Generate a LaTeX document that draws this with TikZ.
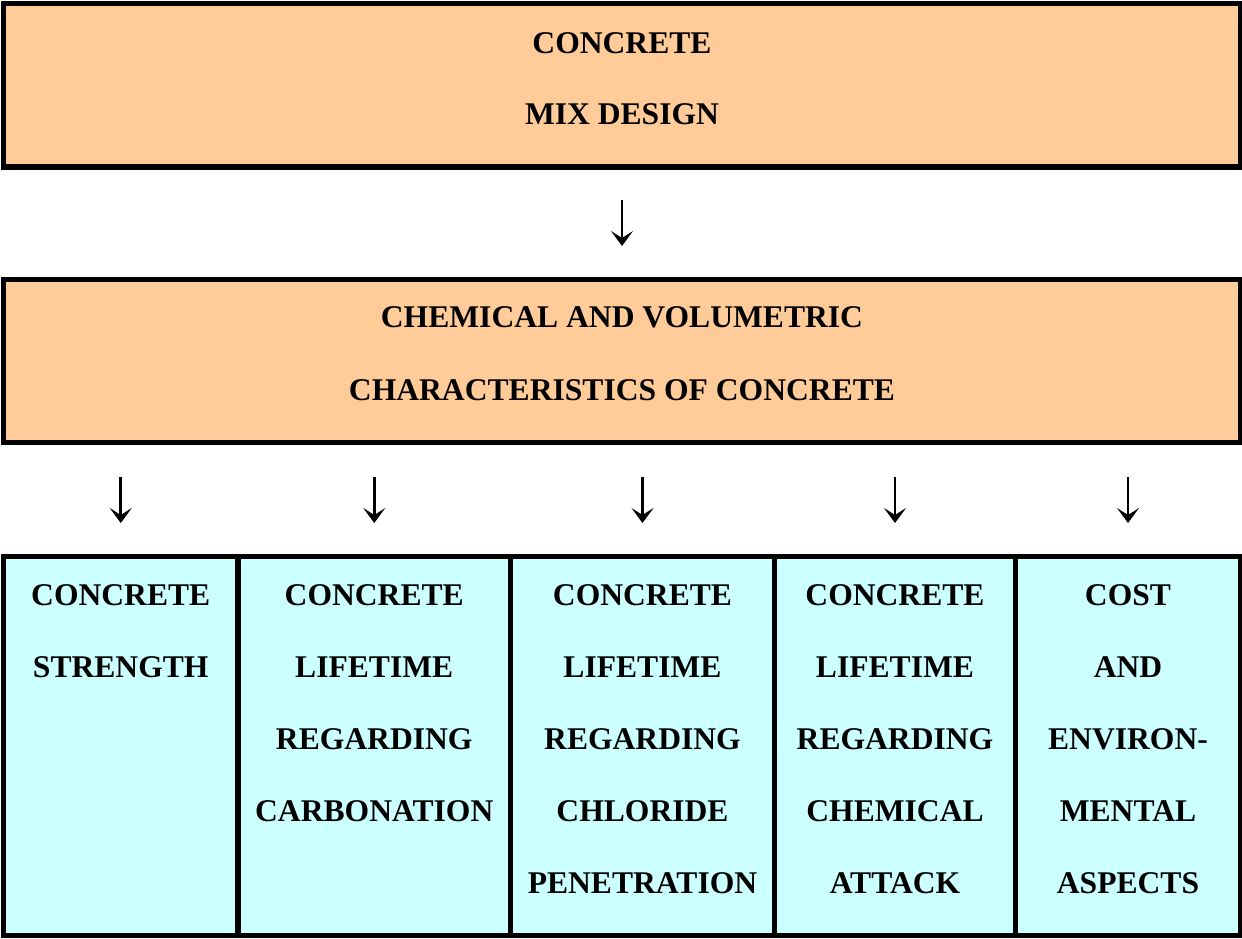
\documentclass[tikz,border=0pt]{standalone}
\usepackage{fontspec}
\setmainfont{Liberation Serif}
\usetikzlibrary{arrows.meta}
\definecolor{peach}{HTML}{FFCC99}
\definecolor{paleCyan}{HTML}{CCFFFF}
\tikzset{
  frame/.style={line width=5.5pt, draw=black},
  lbl/.style={anchor=base, inner sep=0pt, font=\bfseries\fontsize{31.6}{36}\selectfont},
  flow/.style={line width=2.6pt, -{Stealth[length=15pt,width=22pt,inset=7pt]}}
}
\begin{document}
\begin{tikzpicture}[x=1pt,y=-1pt]
\useasboundingbox (0,0) rectangle (1242,938);
% boxes
\draw[frame, fill=peach] (3.5,3.5) rectangle (1240.5,167);
\draw[frame, fill=peach] (3.5,279.5) rectangle (1240.5,442.5);
\draw[frame, fill=paleCyan] (3.5,556.5) rectangle (1240.5,935.5);
\foreach \d in {238,510.5,774.5,1015.5}
  \draw[frame] (\d,556.5) -- (\d,935.5);
% top texts
\node[lbl] (t1) at (622,53) {CONCRETE};
\node[lbl] (t2) at (622,124) {MIX DESIGN};
\node[lbl] (m1) at (622,327) {CHEMICAL AND VOLUMETRIC};
\node[lbl] (m2) at (622,400) {CHARACTERISTICS OF CONCRETE};
% arrows
\coordinate (a0s) at (622,200); \coordinate (a0e) at (622,246);
\draw[flow] (a0s) -- (a0e);
\foreach \x [count=\i] in {120.75,374.25,642.5,895,1128}{
  \coordinate (b\i s) at (\x,477);
  \coordinate (b\i e) at (\x,523);
  \draw[flow] (b\i s) -- (b\i e);
}
% column 1
\node[lbl] (c1a) at (120.75,605) {CONCRETE};
\node[lbl] (c1b) at (120.75,677) {STRENGTH};
% column 2
\node[lbl] (c2a) at (374.25,605) {CONCRETE};
\node[lbl] (c2b) at (374.25,677) {LIFETIME};
\node[lbl] (c2c) at (374.25,749) {REGARDING};
\node[lbl] (c2d) at (374.25,821) {CARBONATION};
% column 3
\node[lbl] (c3a) at (642.5,605) {CONCRETE};
\node[lbl] (c3b) at (642.5,677) {LIFETIME};
\node[lbl] (c3c) at (642.5,749) {REGARDING};
\node[lbl] (c3d) at (642.5,821) {CHLORIDE};
\node[lbl] (c3e) at (642.5,893) {PENETRATION};
% column 4
\node[lbl] (c4a) at (895,605) {CONCRETE};
\node[lbl] (c4b) at (895,677) {LIFETIME};
\node[lbl] (c4c) at (895,749) {REGARDING};
\node[lbl] (c4d) at (895,821) {CHEMICAL};
\node[lbl] (c4e) at (895,893) {ATTACK};
% column 5
\node[lbl] (c5a) at (1128,605) {COST};
\node[lbl] (c5b) at (1128,677) {AND};
\node[lbl] (c5c) at (1128,749) {ENVIRON-};
\node[lbl] (c5d) at (1128,821) {MENTAL};
\node[lbl] (c5e) at (1128,893) {ASPECTS};
\end{tikzpicture}
\end{document}
